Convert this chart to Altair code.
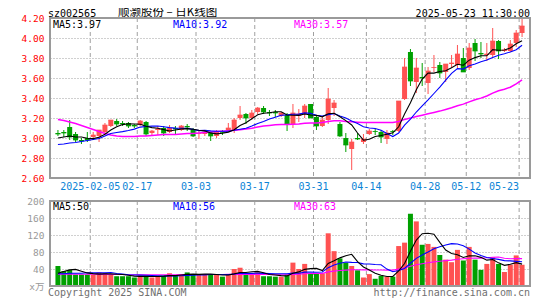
import altair as alt
import pandas as pd

# ---- data (80 daily candles, 2025-01-20 .. 2025-05-23) ----
opens = [3.05, 3.06, 3.11, 3.04, 2.98, 3.00, 3.01, 3.02, 3.06, 3.12,
         3.17, 3.15, 3.15, 3.13, 3.13, 3.16, 3.05, 3.08, 3.10, 3.06,
         3.10, 3.08, 3.12, 3.09, 3.04, 3.04, 3.05, 3.02, 3.06, 3.08,
         3.08, 3.20, 3.24, 3.20, 3.26, 3.30, 3.26, 3.26, 3.22, 3.23,
         3.14, 3.22, 3.24, 3.34, 3.21, 3.12, 3.18, 3.30, 3.14, 3.00,
         2.89, 3.00, 2.96, 3.04, 3.07, 3.06, 2.99, 3.07, 3.07, 3.39,
         3.86, 3.56, 3.61, 3.55, 3.70, 3.73, 3.66, 3.74, 3.73, 3.80,
         3.70, 3.95, 3.85, 3.83, 3.83, 3.97, 3.87, 3.87, 3.95, 4.05]
closes = [3.04, 3.05, 3.01, 2.98, 2.97, 2.98, 3.03, 3.08, 3.13, 3.18,
          3.14, 3.14, 3.12, 3.12, 3.17, 3.04, 3.07, 3.09, 3.05, 3.10,
          3.09, 3.12, 3.11, 3.02, 3.045, 3.06, 3.02, 3.06, 3.055, 3.10,
          3.18, 3.23, 3.20, 3.25, 3.30, 3.26, 3.25, 3.25, 3.25, 3.14,
          3.25, 3.24, 3.32, 3.20, 3.12, 3.18, 3.39, 3.35, 3.02, 2.93,
          2.96, 2.99, 2.99, 3.07, 3.065, 3.01, 3.05, 3.065, 3.37, 3.71,
          3.57, 3.70, 3.60, 3.67, 3.705, 3.65, 3.74, 3.75, 3.84, 3.66,
          3.90, 3.87, 3.84, 3.84, 3.97, 3.87, 3.88, 3.94, 4.05, 4.12]
highs = [3.08, 3.08, 3.18, 3.06, 3.00, 3.06, 3.06, 3.08, 3.15, 3.18,
         3.19, 3.17, 3.16, 3.14, 3.18, 3.17, 3.08, 3.12, 3.12, 3.13,
         3.12, 3.13, 3.14, 3.10, 3.08, 3.08, 3.06, 3.08, 3.08, 3.15,
         3.20, 3.32, 3.25, 3.28, 3.31, 3.32, 3.28, 3.28, 3.26, 3.25,
         3.34, 3.29, 3.34, 3.34, 3.22, 3.21, 3.50, 3.38, 3.16, 3.05,
         2.99, 3.05, 3.04, 3.09, 3.09, 3.08, 3.08, 3.08, 3.37, 3.80,
         3.89, 3.80, 3.75, 3.71, 3.83, 3.76, 3.74, 3.83, 3.93, 3.90,
         3.95, 3.99, 3.96, 3.95, 4.10, 3.98, 3.90, 3.98, 4.08, 4.20]
lows = [3.02, 3.01, 2.98, 2.96, 2.94, 2.96, 2.98, 2.96, 3.05, 3.11,
        3.12, 3.12, 3.10, 3.10, 3.12, 3.02, 3.03, 3.03, 3.02, 3.05,
        3.04, 3.07, 3.07, 3.01, 2.99, 3.02, 2.97, 3.00, 3.03, 3.07,
        3.05, 3.18, 3.14, 3.18, 3.24, 3.24, 3.22, 3.21, 3.21, 3.07,
        3.10, 3.16, 3.20, 3.20, 3.08, 3.11, 3.14, 3.22, 3.01, 2.86,
        2.68, 2.98, 2.94, 3.03, 3.03, 2.95, 2.94, 3.03, 3.06, 3.38,
        3.52, 3.45, 3.52, 3.44, 3.66, 3.60, 3.56, 3.70, 3.70, 3.66,
        3.68, 3.77, 3.80, 3.77, 3.81, 3.79, 3.86, 3.86, 3.91, 4.01]
ma5 = [3.00, 3.01, 3.02, 3.01, 3.010, 2.998, 2.994, 3.008, 3.038, 3.080,
       3.112, 3.134, 3.142, 3.140, 3.138, 3.118, 3.104, 3.098, 3.084, 3.070,
       3.080, 3.090, 3.094, 3.088, 3.077, 3.071, 3.051, 3.041, 3.048, 3.059,
       3.083, 3.125, 3.153, 3.192, 3.232, 3.248, 3.252, 3.262, 3.262, 3.230,
       3.228, 3.226, 3.240, 3.230, 3.226, 3.212, 3.242, 3.248, 3.212, 3.174,
       3.130, 3.050, 2.978, 2.988, 3.015, 3.025, 3.037, 3.052, 3.112, 3.241,
       3.353, 3.483, 3.590, 3.650, 3.649, 3.665, 3.673, 3.703, 3.737, 3.728,
       3.778, 3.804, 3.822, 3.822, 3.884, 3.878, 3.880, 3.900, 3.942, 3.972]
ma10 = [2.935, 2.94, 2.95, 2.955, 2.965, 2.975, 2.985, 2.995, 3.02, 3.045,
        3.055, 3.064, 3.075, 3.089, 3.109, 3.115, 3.119, 3.120, 3.112, 3.104,
        3.099, 3.097, 3.096, 3.086, 3.074, 3.076, 3.071, 3.068, 3.068, 3.068,
        3.077, 3.088, 3.097, 3.120, 3.146, 3.166, 3.189, 3.208, 3.227, 3.231,
        3.238, 3.239, 3.251, 3.246, 3.228, 3.220, 3.234, 3.244, 3.221, 3.200,
        3.171, 3.146, 3.113, 3.100, 3.095, 3.078, 3.044, 3.015, 3.050, 3.128,
        3.189, 3.260, 3.321, 3.381, 3.445, 3.509, 3.578, 3.647, 3.694, 3.689,
        3.722, 3.739, 3.763, 3.780, 3.806, 3.828, 3.842, 3.861, 3.882, 3.928]
ma30 = [3.185, 3.175, 3.16, 3.145, 3.125, 3.105, 3.085, 3.065, 3.045, 3.03,
        3.02, 3.015, 3.015, 3.015, 3.02, 3.02, 3.025, 3.03, 3.035, 3.035,
        3.035, 3.04, 3.045, 3.045, 3.05, 3.055, 3.06, 3.065, 3.068, 3.072,
        3.077, 3.083, 3.089, 3.098, 3.109, 3.119, 3.126, 3.132, 3.136, 3.134,
        3.138, 3.141, 3.148, 3.151, 3.149, 3.154, 3.164, 3.173, 3.172, 3.166,
        3.162, 3.158, 3.154, 3.155, 3.156, 3.154, 3.155, 3.156, 3.166, 3.186,
        3.199, 3.215, 3.228, 3.242, 3.256, 3.269, 3.285, 3.302, 3.322, 3.339,
        3.361, 3.382, 3.399, 3.420, 3.449, 3.472, 3.488, 3.508, 3.542, 3.582]
volumes = [47, 35, 38, 27, 27, 27, 27, 32, 30, 27,
           23, 23, 23, 20, 24, 24, 20, 24, 24, 30,
           24, 27, 32, 27, 27, 27, 27, 27, 22, 27,
           40, 43, 27, 30, 32, 23, 23, 22, 22, 27,
           55, 40, 52, 30, 30, 30, 124, 82, 65, 55,
           47, 37, 20, 28, 17, 24, 22, 22, 94, 102,
           170, 152, 97, 99, 92, 73, 62, 56, 85, 60,
           92, 62, 38, 52, 68, 52, 33, 50, 72, 50]
vma5 = [30, 34, 38, 39, 34.8, 30.8, 29.2, 28, 28.6, 28.6,
        27.8, 27, 25.2, 23.2, 22.6, 22.8, 22.2, 22.4, 23.2, 24.4,
        24.4, 25.8, 27.4, 28, 27.4, 28, 28, 27, 26, 26,
        28.6, 31.8, 31.8, 33.4, 34.4, 31, 27, 26, 24.4, 23.4,
        29.8, 33.2, 39.2, 40.8, 41.4, 36.4, 53.2, 59.2, 66.2, 71.2,
        74.6, 57.2, 44.8, 37.4, 29.8, 25.2, 22.2, 22.6, 35.8, 52.8,
        82, 108, 123, 124, 122, 102.6, 84.6, 76.4, 73.6, 67.2,
        71, 71, 67.4, 60.8, 62.4, 54.4, 48.6, 51, 55, 51.4]
vma10 = [29, 29, 30, 30, 30, 31, 31, 31, 31, 31.7,
         29.3, 28.1, 26.6, 25.9, 25.6, 25.3, 24.6, 23.8, 23.2, 23.5,
         23.6, 24, 24.9, 25.6, 25.9, 26.2, 26.9, 27.2, 27, 26.7,
         28.3, 29.9, 29.4, 29.7, 30.2, 29.8, 29.4, 28.9, 28.9, 28.9,
         30.4, 30.1, 32.6, 32.6, 32.4, 33.1, 43.2, 49.2, 53.5, 56.3,
         55.5, 55.2, 52, 51.8, 50.5, 49.9, 39.7, 33.7, 36.6, 41.3,
         53.6, 65.1, 72.8, 79.9, 87.4, 92.3, 96.3, 99.7, 98.8, 94.6,
         86.8, 77.8, 71.9, 67.2, 64.8, 62.7, 59.8, 59.2, 57.9, 56.9]
vma30 = [28, 28, 28, 28, 27.5, 27.5, 27.5, 27, 27, 27,
         27, 27, 26.5, 26.5, 26.5, 26.5, 26.5, 26.5, 26.5, 26.5,
         26.5, 27, 27, 27, 27, 27, 27, 27, 27, 27.3,
         27.1, 27.3, 27.0, 27.1, 27.2, 27.1, 27.0, 26.6, 26.4, 26.4,
         27.4, 28.0, 29.0, 29.3, 29.5, 29.7, 33.2, 35.1, 36.5, 37.3,
         38.1, 38.4, 38.0, 38.0, 37.7, 37.6, 37.4, 37.3, 39.7, 42.2,
         46.5, 50.1, 52.5, 54.8, 56.8, 58.4, 59.7, 60.9, 63.0, 64.1,
         65.3, 66.0, 65.6, 66.3, 67.6, 68.3, 65.3, 64.2, 64.4, 64.3]

date_tick_index = [6, 14, 24, 34, 44, 53, 63, 70, 79]
date_tick_labels = ["2025-02-05", "02-17", "03-03", "03-17", "03-31",
                    "04-14", "04-28", "05-12", "05-23"]
price_ticks = [2.6, 2.8, 3.0, 3.2, 3.4, 3.6, 3.8, 4.0, 4.2]
volume_ticks = [0, 40, 80, 120, 160, 200]
header_texts = ["sz002565", "顺灏股份 – 日K线图", "2025-05-23 11:30:00"]
price_ma_texts = ["MA5:3.97", "MA10:3.92", "MA30:3.57"]
volume_ma_texts = ["MA5:50", "MA10:56", "MA30:63"]
footer_texts = ["Copyright 2025 SINA.COM", "http://finance.sina.com.cn"]

# ---- styling / layout (pixels inside the plot area) ----
UP, DOWN = "#ff5252", "#00a000"
MA_COLORS = ["#000000", "#0000ff", "#ff00ff"]
MA_WIDTHS = [1.1, 1.1, 1.5]
FONT = "DejaVu Sans Mono"
CJK = "Noto Sans CJK SC"
GRID = "#a0a0a0"
FRAME = "#9a9a9a"
DATE_COLOR = "#0b84d6"
N = len(closes)
W = 480
MAIN_TOP, MAIN_BOT = 0, 160
VOL_TOP, VOL_BOT = 183, 268
H = VOL_BOT

df = pd.DataFrame({
    "i": list(range(N)), "open": opens, "close": closes, "high": highs,
    "low": lows, "ma5": ma5, "ma10": ma10, "ma30": ma30,
    "vol": volumes, "vma5": vma5, "vma10": vma10, "vma30": vma30,
})
ticks_df = pd.DataFrame({"t": date_tick_index, "label": date_tick_labels})
one = pd.DataFrame({"a": [0]})
last_tick = date_tick_index[-1]

x_scale = alt.Scale(domain=[0, N], nice=False, zero=False)
price_scale = alt.Scale(domain=[2.6, 4.2], range=[MAIN_BOT, MAIN_TOP], nice=False, zero=False)
vol_scale = alt.Scale(domain=[0, 200], range=[VOL_BOT, VOL_TOP], nice=False, zero=True)

price_axis = alt.Axis(
    values=price_ticks, format=".2f", orient="left", grid=True, gridDash=[1, 2],
    gridColor=GRID,
    gridOpacity={"condition": {"test": "datum.value <= 2.6 || datum.value >= 4.2", "value": 0},
                 "value": 1},
    ticks=False, domain=False, labelColor="#ff0000", labelFont=FONT,
    labelFontSize=9.5, labelPadding=6)

vol_axis = alt.Axis(
    values=volume_ticks, orient="left", grid=True, gridDash=[1, 2], gridColor=GRID,
    gridOpacity={"condition": {"test": "datum.value <= 0 || datum.value >= 200", "value": 0},
                 "value": 1},
    labelExpr="datum.value == 0 ? 'x万' : datum.label",
    ticks=False, domain=False, labelColor="#999999", labelFont=f"{FONT}, {CJK}",
    labelFontSize=9.5, labelPadding=6)


def X(field="xc"):
    return alt.X(f"{field}:Q", scale=x_scale, title=None, axis=None)


def YP(field, axis=None):
    return alt.Y(f"{field}:Q", scale=price_scale, title=None, axis=axis)


def YV(field, axis=None):
    return alt.Y(f"{field}:Q", scale=vol_scale, title=None, axis=axis)


color = alt.condition("datum.close >= datum.open", alt.value(UP), alt.value(DOWN))
base = alt.Chart(df).transform_calculate(xc="datum.i + 0.5")


def text(t, x, y, col, size=10, align="left", baseline="middle", font=FONT):
    return alt.Chart(pd.DataFrame({"t": [t]})).mark_text(
        align=align, baseline=baseline, font=font, fontSize=size, color=col
    ).encode(x=alt.value(x), y=alt.value(y), text="t:N")


# vertical dashed grid lines at the dated candles, one set per panel
vgrid_main = alt.Chart(ticks_df).mark_rule(color=GRID, strokeDash=[4, 3], strokeWidth=1).encode(
    x=X("t"), y=alt.value(MAIN_TOP), y2=alt.value(MAIN_BOT))
vgrid_vol = alt.Chart(ticks_df).mark_rule(color=GRID, strokeDash=[4, 3], strokeWidth=1).encode(
    x=X("t"), y=alt.value(VOL_TOP), y2=alt.value(VOL_BOT))

# date labels under the price panel, placed through the x scale
DATE_Y = MAIN_BOT + 9.3
date_labels = alt.Chart(ticks_df).transform_filter(f"datum.t != {last_tick}").mark_text(
    align="center", baseline="middle", font=FONT, fontSize=10, color=DATE_COLOR
).encode(x=X("t"), y=alt.value(DATE_Y), text="label:N")
date_label_last = alt.Chart(ticks_df).transform_filter(f"datum.t == {last_tick}").mark_text(
    align="right", baseline="middle", font=FONT, fontSize=10, color=DATE_COLOR
).encode(x=X("t"), y=alt.value(DATE_Y), text="label:N")

wick = base.mark_rule(strokeWidth=1).encode(x=X(), y=YP("low", price_axis), y2="high", color=color)
body = base.mark_bar(size=5).encode(x=X(), y=YP("open"), y2="close", color=color)
flat = base.mark_tick(thickness=1, size=5, orient="horizontal").encode(
    x=X(), y=YP("close"), color=color)
lines_main = [base.mark_line(color=c, strokeWidth=w).encode(x=X(), y=YP(f))
              for f, c, w in zip(["ma30", "ma10", "ma5"], MA_COLORS[::-1], MA_WIDTHS[::-1])]

bars = base.mark_bar(size=5).encode(x=X(), y=YV("vol", vol_axis), color=color)
lines_vol = [base.mark_line(color=c, strokeWidth=1.1).encode(x=X(), y=YV(f))
             for f, c in zip(["vma30", "vma10", "vma5"], MA_COLORS[::-1])]


def frame(y0, y1):
    return alt.Chart(one).mark_rect(fillOpacity=0, stroke=FRAME, strokeWidth=2).encode(
        x=alt.value(0), x2=alt.value(W), y=alt.value(y0), y2=alt.value(y1))


HEAD_Y = -4.5
texts = [
    text(header_texts[0], -2, HEAD_Y, "#000000"),
    text(header_texts[1], 68, HEAD_Y - 0.5, "#000000", size=11.5, font=CJK),
    text(header_texts[2], W, HEAD_Y, "#000000", align="right"),
    text(price_ma_texts[0], 3, MAIN_TOP + 6.5, MA_COLORS[0]),
    text(price_ma_texts[1], 123, MAIN_TOP + 6.5, MA_COLORS[1]),
    text(price_ma_texts[2], 244, MAIN_TOP + 6.5, MA_COLORS[2]),
    text(volume_ma_texts[0], 3, VOL_TOP + 6, MA_COLORS[0]),
    text(volume_ma_texts[1], 123, VOL_TOP + 6, MA_COLORS[1]),
    text(volume_ma_texts[2], 244, VOL_TOP + 6, MA_COLORS[2]),
    text(footer_texts[0], -2, VOL_BOT + 6.5, "#707070"),
    text(footer_texts[1], W, VOL_BOT + 6.5, "#707070", align="right"),
]

chart = alt.layer(
    vgrid_main, vgrid_vol, date_labels, date_label_last,
    wick, body, flat, *lines_main,
    bars, *lines_vol,
    *texts,
    frame(MAIN_TOP, MAIN_BOT), frame(VOL_TOP, VOL_BOT),
).resolve_scale(y="independent").resolve_axis(y="independent").properties(
    width=W, height=H,
    autosize=alt.AutoSizeParams(type="none"),
    padding={"left": 42, "top": 10, "right": 7, "bottom": 14},
    background="#ffffff",
).configure_view(strokeWidth=0)

chart.save("out.html", embed_options={"renderer": "svg", "actions": False})
